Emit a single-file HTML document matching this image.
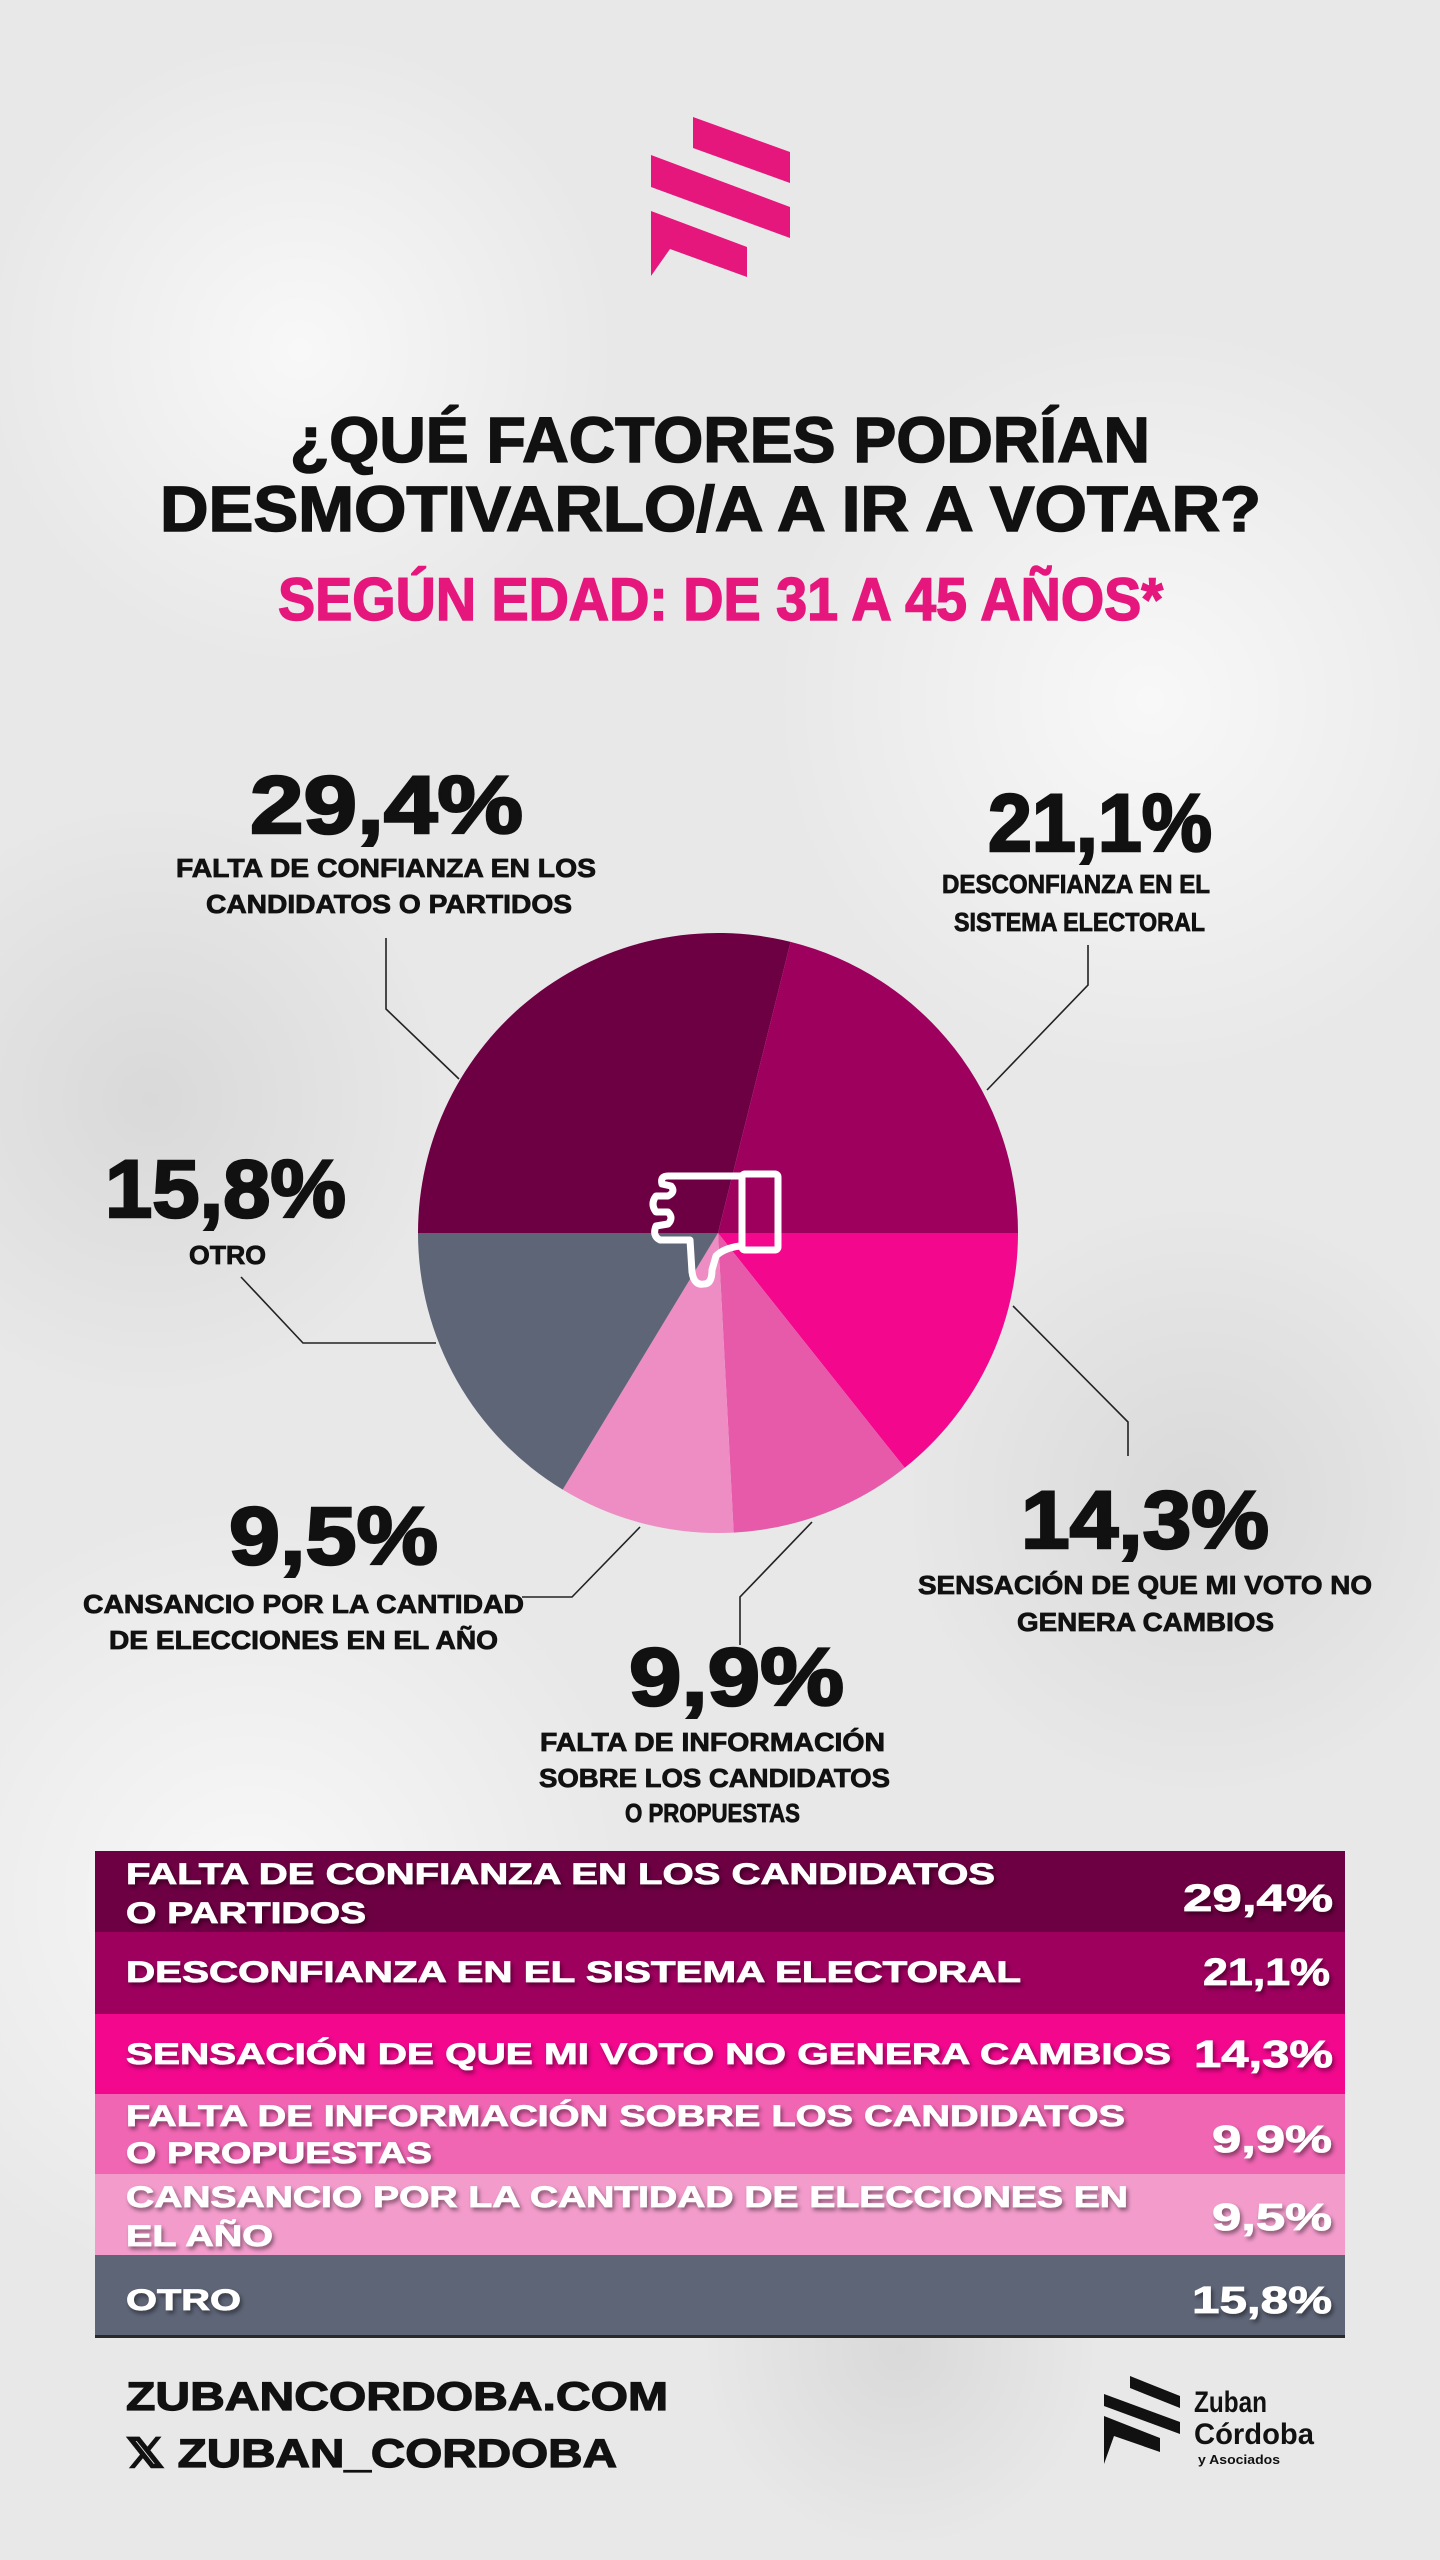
<!DOCTYPE html>
<html><head><meta charset="utf-8"><style>
html,body{margin:0;padding:0;width:1440px;height:2560px;overflow:hidden;background:#e9e9e9}
svg{display:block;overflow:hidden}
text{font-family:"Liberation Sans",sans-serif;font-weight:bold}
</style></head><body>
<svg width="1440" height="2560" viewBox="0 0 1440 2560" xmlns="http://www.w3.org/2000/svg">
<defs>
<filter id="ts" x="-5%" y="-20%" width="110%" height="140%"><feDropShadow dx="2" dy="3" stdDeviation="2" flood-color="#000" flood-opacity="0.45"/></filter>
<radialGradient id="g1"><stop offset="0" stop-color="#ffffff" stop-opacity="0.7"/><stop offset="1" stop-color="#ffffff" stop-opacity="0"/></radialGradient>
<radialGradient id="g2"><stop offset="0" stop-color="#cfcfcf" stop-opacity="0.6"/><stop offset="1" stop-color="#cfcfcf" stop-opacity="0"/></radialGradient>
</defs>
<rect width="1440" height="2560" fill="#e8e8e8"/>
<circle cx="300" cy="350" r="320" fill="url(#g1)"/>
<circle cx="1150" cy="700" r="380" fill="url(#g1)"/>
<circle cx="250" cy="1900" r="400" fill="url(#g1)"/>
<circle cx="1200" cy="1500" r="300" fill="url(#g2)"/>
<circle cx="150" cy="1100" r="300" fill="url(#g2)"/>
<circle cx="900" cy="2350" r="200" fill="url(#g2)"/>

<!-- logo -->
<g fill="#e5177d">
<polygon points="693,117 790,152 790,183 693,148"/>
<polygon points="651,155 790,207 790,238 651,187"/>
<polygon points="651,211 747,247 747,277 670,249 651,276"/>
</g>

<!-- title -->
<g stroke-width="1.5">
<text x="290" y="462" font-size="64" fill="#111" stroke="#111" textLength="860" lengthAdjust="spacingAndGlyphs">¿QUÉ FACTORES PODRÍAN</text>
<text x="160" y="531" font-size="64" fill="#111" stroke="#111" textLength="1101" lengthAdjust="spacingAndGlyphs">DESMOTIVARLO/A A IR A VOTAR?</text>
<text x="278" y="620" font-size="60" fill="#e5177d" stroke="#e5177d" textLength="885" lengthAdjust="spacingAndGlyphs">SEGÚN EDAD: DE 31 A 45 AÑOS*</text>
</g>

<!-- pie -->
<g transform="translate(718,1233)">
<path d="M0,0 L-300,0 A300,300 0 0 1 72.6,-291.1 Z" fill="#6d0042"/>
<path d="M0,0 L72.6,-291.1 A300,300 0 0 1 300,0 Z" fill="#9e005e"/>
<path d="M0,0 L300,0 A300,300 0 0 1 186.7,234.8 Z" fill="#f2078d"/>
<path d="M0,0 L186.7,234.8 A300,300 0 0 1 15.7,299.6 Z" fill="#e65aa9"/>
<path d="M0,0 L15.7,299.6 A300,300 0 0 1 -155.3,256.6 Z" fill="#ee8dc3"/>
<path d="M0,0 L-155.3,256.6 A300,300 0 0 1 -300,0 Z" fill="#5e6577"/>
</g>
<g fill="none" stroke="#fff" stroke-width="7" stroke-linejoin="round" stroke-linecap="round">
<rect x="742" y="1174" width="36" height="76" rx="3"/>
<path d="M740,1176 L668,1176 Q660,1176 662,1184 L671,1186 Q676,1192 668,1196 L656,1196 Q650,1204 656,1212 L668,1212 Q674,1218 668,1224 L656,1226 Q652,1236 660,1240 L690,1240 L692,1272 Q694,1286 704,1284 Q712,1284 712,1270 L716,1256 Q724,1248 740,1246"/>
</g>

<g fill="none" stroke="#222" stroke-width="1.6">
<polyline points="386,938 386,1009 459,1079"/>
<polyline points="1088,945 1088,985 987,1090"/>
<polyline points="241,1277 303,1343 436,1343"/>
<polyline points="1013,1306 1128,1422 1128,1456"/>
<polyline points="812,1522 740,1597 740,1645"/>
<polyline points="640,1527 572,1597 522,1597"/>
</g>

<g fill="#111" stroke="#111">
<g stroke-width="2.5">
<text x="250" y="833" font-size="82" textLength="273" lengthAdjust="spacingAndGlyphs">29,4%</text>
<text x="988" y="851" font-size="82" textLength="224" lengthAdjust="spacingAndGlyphs">21,1%</text>
<text x="105" y="1217" font-size="82" textLength="241" lengthAdjust="spacingAndGlyphs">15,8%</text>
<text x="1021" y="1548" font-size="82" textLength="248" lengthAdjust="spacingAndGlyphs">14,3%</text>
<text x="229" y="1564" font-size="82" textLength="209" lengthAdjust="spacingAndGlyphs">9,5%</text>
<text x="629" y="1705" font-size="82" textLength="215" lengthAdjust="spacingAndGlyphs">9,9%</text>
</g>
<g stroke-width="0.8">
<text x="176" y="877" font-size="26" textLength="420" lengthAdjust="spacingAndGlyphs">FALTA DE CONFIANZA EN LOS</text>
<text x="206" y="913" font-size="26" textLength="366" lengthAdjust="spacingAndGlyphs">CANDIDATOS O PARTIDOS</text>
<text x="942" y="893" font-size="26" textLength="268" lengthAdjust="spacingAndGlyphs">DESCONFIANZA EN EL</text>
<text x="954" y="931" font-size="26" textLength="251" lengthAdjust="spacingAndGlyphs">SISTEMA ELECTORAL</text>
<text x="189" y="1264" font-size="26" textLength="77" lengthAdjust="spacingAndGlyphs">OTRO</text>
<text x="918" y="1594" font-size="26" textLength="454" lengthAdjust="spacingAndGlyphs">SENSACIÓN DE QUE MI VOTO NO</text>
<text x="1017" y="1631" font-size="26" textLength="257" lengthAdjust="spacingAndGlyphs">GENERA CAMBIOS</text>
<text x="83" y="1613" font-size="26" textLength="441" lengthAdjust="spacingAndGlyphs">CANSANCIO POR LA CANTIDAD</text>
<text x="109" y="1649" font-size="26" textLength="389" lengthAdjust="spacingAndGlyphs">DE ELECCIONES EN EL AÑO</text>
<text x="540" y="1751" font-size="26" textLength="345" lengthAdjust="spacingAndGlyphs">FALTA DE INFORMACIÓN</text>
<text x="539" y="1787" font-size="26" textLength="351" lengthAdjust="spacingAndGlyphs">SOBRE LOS CANDIDATOS</text>
<text x="625" y="1822" font-size="26" textLength="175" lengthAdjust="spacingAndGlyphs">O PROPUESTAS</text>
</g>
</g>

<rect x="95" y="1851" width="1250" height="81" fill="#6d0042"/>
<rect x="95" y="1932" width="1250" height="82" fill="#9e005e"/>
<rect x="95" y="2014" width="1250" height="80" fill="#f2078d"/>
<rect x="95" y="2094" width="1250" height="80" fill="#f066b3"/>
<rect x="95" y="2174" width="1250" height="81" fill="#f39ccc"/>
<rect x="95" y="2255" width="1250" height="82" fill="#5e6577"/>
<rect x="95" y="2335" width="1250" height="3" fill="#2a2a2a"/>
<g fill="#fff" stroke="#fff" stroke-width="0.8" filter="url(#ts)">
<text x="126" y="1884" font-size="30" textLength="869" lengthAdjust="spacingAndGlyphs">FALTA DE CONFIANZA EN LOS CANDIDATOS</text>
<text x="126" y="1923" font-size="30" textLength="240" lengthAdjust="spacingAndGlyphs">O PARTIDOS</text>
<text x="1183" y="1911" font-size="38" textLength="150" lengthAdjust="spacingAndGlyphs">29,4%</text>
<text x="126" y="1982" font-size="30" textLength="895" lengthAdjust="spacingAndGlyphs">DESCONFIANZA EN EL SISTEMA ELECTORAL</text>
<text x="1203" y="1985" font-size="38" textLength="127" lengthAdjust="spacingAndGlyphs">21,1%</text>
<text x="126" y="2064" font-size="30" textLength="1045" lengthAdjust="spacingAndGlyphs">SENSACIÓN DE QUE MI VOTO NO GENERA CAMBIOS</text>
<text x="1194" y="2067" font-size="38" textLength="139" lengthAdjust="spacingAndGlyphs">14,3%</text>
<text x="126" y="2126" font-size="30" textLength="999" lengthAdjust="spacingAndGlyphs">FALTA DE INFORMACIÓN SOBRE LOS CANDIDATOS</text>
<text x="126" y="2163" font-size="30" textLength="306" lengthAdjust="spacingAndGlyphs">O PROPUESTAS</text>
<text x="1212" y="2152" font-size="38" textLength="120" lengthAdjust="spacingAndGlyphs">9,9%</text>
<text x="126" y="2207" font-size="30" textLength="1002" lengthAdjust="spacingAndGlyphs">CANSANCIO POR LA CANTIDAD DE ELECCIONES EN</text>
<text x="126" y="2246" font-size="30" textLength="147" lengthAdjust="spacingAndGlyphs">EL AÑO</text>
<text x="1212" y="2230" font-size="38" textLength="120" lengthAdjust="spacingAndGlyphs">9,5%</text>
<text x="126" y="2310" font-size="30" textLength="115" lengthAdjust="spacingAndGlyphs">OTRO</text>
<text x="1192" y="2313" font-size="38" textLength="140" lengthAdjust="spacingAndGlyphs">15,8%</text>
</g>

<g fill="#111" stroke="#111" stroke-width="1.2">
<text x="126" y="2410" font-size="40" textLength="542" lengthAdjust="spacingAndGlyphs">ZUBANCORDOBA.COM</text>
<text x="126" y="2467" font-size="40" textLength="491" lengthAdjust="spacingAndGlyphs">𝕏 ZUBAN_CORDOBA</text>
</g>
<g fill="#111">
<polygon points="1130,2376 1180,2396 1180,2408 1130,2388"/>
<polygon points="1104,2394 1180,2422 1180,2434 1104,2406"/>
<polygon points="1104,2416 1160,2438 1160,2452 1114,2436 1104,2464"/>
</g>
<text x="1194" y="2412" font-size="30" fill="#111" textLength="73" lengthAdjust="spacingAndGlyphs">Zuban</text>
<text x="1194" y="2444" font-size="30" fill="#111" textLength="120" lengthAdjust="spacingAndGlyphs">Córdoba</text>
<text x="1198" y="2464" font-size="13" fill="#111" textLength="82" lengthAdjust="spacingAndGlyphs">y Asociados</text>
</svg>
</body></html>
